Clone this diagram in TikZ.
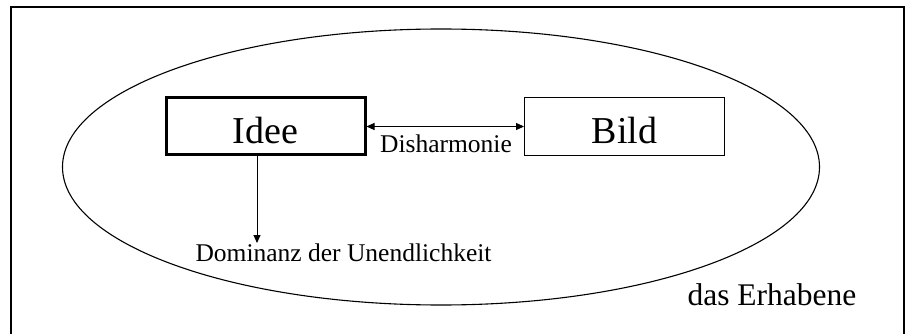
\documentclass[tikz,border=0pt]{standalone}
\usepackage{fontspec}
\setmainfont{Liberation Serif}
\usetikzlibrary{arrows.meta}
\begin{document}
\begin{tikzpicture}[x=1pt,y=-1pt,
  frame/.style={line width=2pt,black},
  boxthick/.style={draw,line width=3pt,minimum width=199pt,minimum height=57pt,inner sep=0pt,text height=33pt,text depth=0pt,font=\fontsize{38}{40}\selectfont},
  boxthin/.style={draw,line width=0.9pt,minimum width=200pt,minimum height=58pt,inner sep=0pt,text height=33pt,text depth=0pt,font=\fontsize{38}{40}\selectfont},
  conn/.style={line width=0.9pt,-{Triangle[length=8pt,width=7pt]}},
  lbl/.style={inner sep=0pt,anchor=base}]
\useasboundingbox (0,0) rectangle (905,334);
\fill[white] (0,0) rectangle (905,334);
\draw[frame] (11,334) -- (11,7.5) -- (904,7.5) -- (904,334);
\draw[line width=1.1pt] (441,167) ellipse [x radius=378.5, y radius=138];
\node[boxthick] (idee) at (265.5,126.5) {Idee};
\node[boxthin] (bild) at (624.5,126.5) {Bild};
\draw[line width=0.9pt,{Triangle[length=8pt,width=7pt]}-{Triangle[length=8pt,width=7pt]}] (idee.east) -- (bild.west);
\node[lbl,font=\fontsize{25.5}{28}\selectfont] (dis) at (446,153) {Disharmonie};
\coordinate (domtip) at (257,243);
\draw[conn] (idee.south -| domtip) -- (domtip);
\node[lbl,font=\fontsize{25.5}{28}\selectfont] (dom) at (343.5,261) {Dominanz der Unendlichkeit};
\node[lbl,font=\fontsize{31.5}{34}\selectfont] (erh) at (772,305) {das Erhabene};
\end{tikzpicture}
\end{document}
